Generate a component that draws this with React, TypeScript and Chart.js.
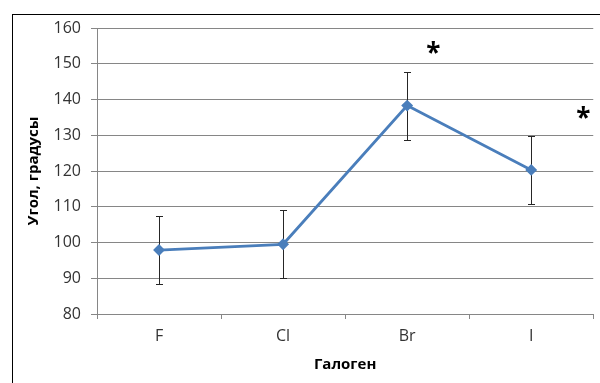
import { useEffect, useRef } from "react";
import { Chart, registerables } from "chart.js";

Chart.register(...registerables);

const categories = ["F", "Cl", "Br", "I"];
const angles = [97.9, 99.5, 138.3, 120.3];
const errors = [9.5, 9.5, 9.5, 9.5];
const yMin = 80;
const yMax = 160;
const yStep = 10;
const markAt = [2.21, 3.42];
const markValues = [154.6, 136.2];
const markTexts = ["*", "*"];
const xTitle = "Галоген";
const yTitle = "Угол, градусы";

const FONT = "'Open Sans', 'Liberation Sans', sans-serif";
const LINE = "#4a7ebb";
const GRID = "#868686";
const TEXT = "#333333";

const framePlugin = {
  id: "frame",
  beforeDraw(chart: any) {
    const ctx = chart.ctx;
    ctx.save();
    ctx.fillStyle = "#ffffff";
    ctx.fillRect(0, 0, chart.width, chart.height);
    ctx.strokeStyle = "#000000";
    ctx.lineWidth = 1;
    ctx.strokeRect(12.5, 14.5, chart.width + 20, chart.height + 20);
    ctx.restore();
  },
};

const errorBarPlugin = {
  id: "errorBars",
  beforeDatasetsDraw(chart: any) {
    const ctx = chart.ctx;
    const xs = chart.scales.x;
    const ys = chart.scales.y;
    ctx.save();
    ctx.strokeStyle = "#262626";
    ctx.lineWidth = 1;
    angles.forEach((v, i) => {
      const x = Math.round(xs.getPixelForValue(i)) + 0.5;
      const yt = Math.round(ys.getPixelForValue(v + errors[i])) + 0.5;
      const yb = Math.round(ys.getPixelForValue(v - errors[i])) + 0.5;
      ctx.beginPath();
      ctx.moveTo(x, yt);
      ctx.lineTo(x, yb);
      ctx.moveTo(x - 3.5, yt);
      ctx.lineTo(x + 3.5, yt);
      ctx.moveTo(x - 3.5, yb);
      ctx.lineTo(x + 3.5, yb);
      ctx.stroke();
    });
    ctx.restore();
  },
};

const marksPlugin = {
  id: "marks",
  afterDatasetsDraw(chart: any) {
    const ctx = chart.ctx;
    const xs = chart.scales.x;
    const ys = chart.scales.y;
    ctx.save();
    ctx.fillStyle = "#000000";
    ctx.font = `bold 26px ${FONT}`;
    ctx.textAlign = "center";
    ctx.textBaseline = "middle";
    markTexts.forEach((t, i) => {
      ctx.fillText(t, xs.getPixelForValue(markAt[i]), ys.getPixelForValue(markValues[i]) + 7);
    });
    ctx.restore();
  },
};

export default function App() {
  const ref = useRef<HTMLCanvasElement | null>(null);

  useEffect(() => {
    if (!ref.current) return;
    const chart = new Chart(ref.current, {
      type: "line",
      data: {
        labels: categories,
        datasets: [
          {
            data: angles,
            borderColor: LINE,
            backgroundColor: LINE,
            borderWidth: 2.75,
            pointStyle: "rectRot",
            pointRadius: 4,
            pointBackgroundColor: LINE,
            pointBorderColor: LINE,
            tension: 0,
          },
        ],
      },
      options: {
        animation: false,
        responsive: false,
        layout: { padding: { left: 20, top: 28, right: 4, bottom: 0 } },
        plugins: {
          legend: { display: false },
          tooltip: { enabled: false },
        },
        scales: {
          x: {
            offset: true,
            grid: {
              offset: true,
              drawOnChartArea: false,
              drawTicks: true,
              tickLength: 5,
              color: GRID,
            },
            border: { display: true, color: GRID },
            ticks: {
              color: TEXT,
              font: { family: FONT, size: 16 },
              padding: 8,
            },
            title: {
              display: true,
              text: xTitle,
              color: "#000000",
              font: { family: FONT, size: 15, weight: "bold" },
              padding: { top: 0, bottom: 9 },
            },
            afterFit(scale: any) {
              scale.height = 69;
            },
          },
          y: {
            min: yMin,
            max: yMax,
            ticks: {
              stepSize: yStep,
              color: TEXT,
              font: { family: FONT, size: 16 },
              padding: 10,
            },
            grid: {
              color: GRID,
              tickLength: 6,
            },
            border: { display: true, color: GRID },
            title: {
              display: true,
              text: yTitle,
              color: "#000000",
              font: { family: FONT, size: 15, weight: "bold" },
              padding: { top: 5, bottom: 0 },
            },
            afterFit(scale: any) {
              scale.width = 77;
            },
          },
        },
      },
      plugins: [framePlugin, errorBarPlugin, marksPlugin],
    });
    return () => chart.destroy();
  }, []);

  return (
    <div style={{ position: "fixed", left: 0, top: 0, width: 600, height: 383 }}>
      <canvas ref={ref} width={600} height={383} />
    </div>
  );
}
